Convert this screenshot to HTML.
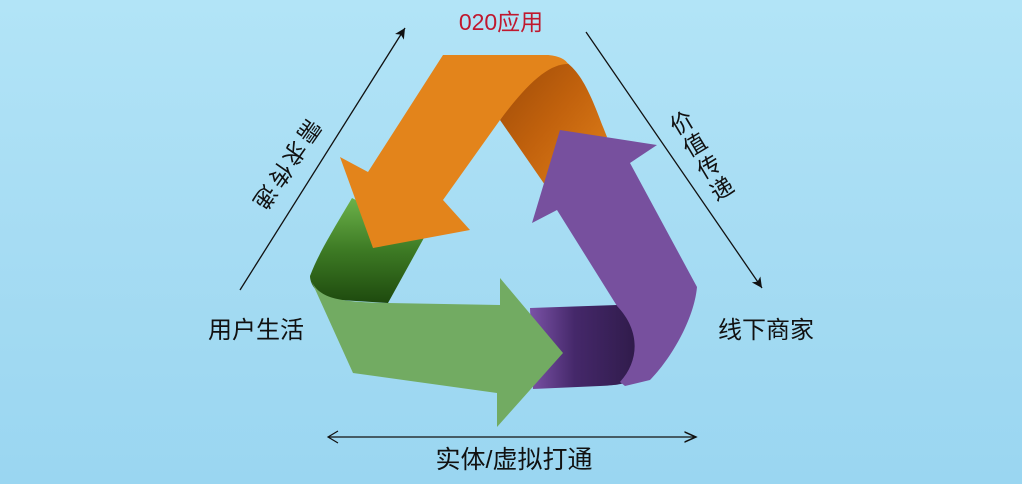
<!DOCTYPE html>
<html><head><meta charset="utf-8"><style>
html,body{margin:0;padding:0;width:1022px;height:484px;overflow:hidden}
body{background:linear-gradient(180deg,#b2e4f7 0%,#a6dcf3 50%,#9ad6f1 100%)}
svg{display:block}
text{font-family:"Liberation Sans","Noto Sans CJK SC",sans-serif}
</style></head><body>
<svg width="1022" height="484" viewBox="0 0 1022 484" xmlns="http://www.w3.org/2000/svg">
<defs>
<linearGradient id="dor" x1="0" y1="0" x2="1" y2="1">
<stop offset="0" stop-color="#9c4a08"/><stop offset="0.5" stop-color="#c2620d"/><stop offset="1" stop-color="#e0801a"/></linearGradient>
<linearGradient id="dgr" x1="0" y1="0" x2="0" y2="1">
<stop offset="0" stop-color="#6cb24a"/><stop offset="0.5" stop-color="#3d7a24"/><stop offset="1" stop-color="#1e4a0e"/></linearGradient>
<linearGradient id="dpu" x1="0" y1="0" x2="1" y2="0">
<stop offset="0" stop-color="#7a52a6"/><stop offset="0.4" stop-color="#45286a"/><stop offset="1" stop-color="#2e1a48"/></linearGradient>
<marker id="ah" markerWidth="10" markerHeight="10" refX="9" refY="5" orient="auto"><path d="M0,1 L9,5 L0,9" fill="none" stroke="#111" stroke-width="1.2"/></marker>
<marker id="ah2" markerWidth="10" markerHeight="10" refX="9" refY="5" orient="auto"><path d="M1,1 L9,5 L1,9 L3,5z" fill="#111"/></marker>
</defs>

<path d="M545,55 C580,56 592,100 607,137 L545,185 L500,120 Z" fill="url(#dor)"/>
<path d="M352,198 L425,236 L388,303 L340,300 C318,298 310,285 310,276 C318,255 330,235 352,198 Z" fill="url(#dgr)"/>
<path d="M530,308 L617,305 C640,330 648,360 636,375 C628,384 620,385 600,386 L533,389 Z" fill="url(#dpu)"/>

<path d="M443,55 L548,55 C560,56 566,60 568,64 C550,64 530,80 500,120 L443,200 L470,230 L373,248 L340,157 L368,172 Z" fill="#e3841b"/>
<path d="M560,130 L657,145 L630,163 L697,287 C694,320 670,360 650,380 L625,386 L620,382 C640,360 640,330 617,306 L557,210 L532,223 Z" fill="#77509e"/>
<path d="M310,278 C318,298 335,302 388,303 L500,305 L500,278 L563,353 L497,427 L497,393 L353,373 Z" fill="#72ab62"/>

<line x1="240" y1="290" x2="405" y2="28" stroke="#111" stroke-width="1.3" marker-end="url(#ah2)"/>
<line x1="586" y1="32" x2="762" y2="288" stroke="#111" stroke-width="1.3" marker-end="url(#ah2)"/>
<line x1="329" y1="437" x2="696" y2="437" stroke="#111" stroke-width="1.3" marker-end="url(#ah)"/>
<path d="M338,431 L328,437 L338,443" fill="none" stroke="#111" stroke-width="1.2"/>

<text x="501" y="30" font-size="23" fill="#c0182e" text-anchor="middle">020应用</text>
<text x="256" y="338" font-size="24" fill="#111" text-anchor="middle">用户生活</text>
<text x="766" y="338" font-size="24" fill="#111" text-anchor="middle">线下商家</text>
<text x="514" y="468" font-size="25" fill="#111" text-anchor="middle">实体/虚拟打通</text>

<g font-size="23" fill="#111" text-anchor="middle" dominant-baseline="central">
<text transform="translate(309,131) rotate(125)">需</text>
<text transform="translate(294,153) rotate(125)">求</text>
<text transform="translate(280,175) rotate(125)">传</text>
<text transform="translate(265,197) rotate(125)">递</text>
<text transform="translate(682,123) rotate(-31)">价</text>
<text transform="translate(695,145) rotate(-31)">值</text>
<text transform="translate(709,167) rotate(-31)">传</text>
<text transform="translate(722,189) rotate(-31)">递</text>
</g>
</svg>
</body></html>
